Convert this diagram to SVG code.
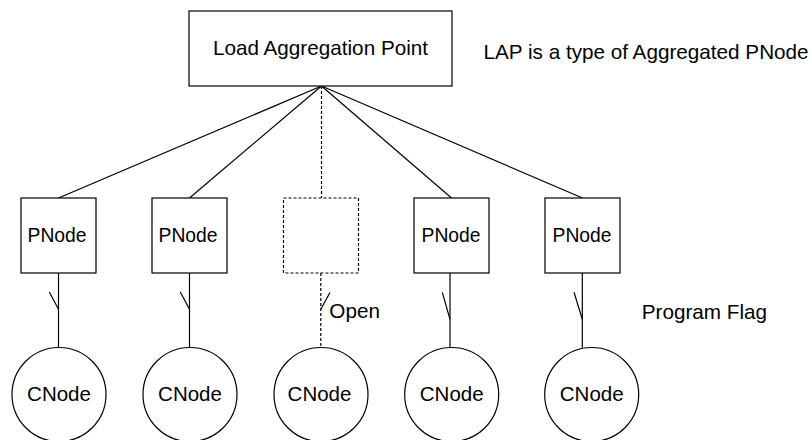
<svg xmlns="http://www.w3.org/2000/svg" width="812" height="440" viewBox="0 0 812 440">
<style>
  .box { fill: #ffffff; stroke: #000000; stroke-width: 1.2; }
  .dash { fill: none; stroke: #000000; stroke-width: 1.2; stroke-dasharray: 3 2; }
  .ln { fill: none; stroke: #000000; stroke-width: 1.2; }
  text { font-family: "Liberation Sans", Arial, sans-serif; font-size: 20.7px; fill: #000000; }
  .c { text-anchor: middle; }
  .p { font-size: 19.3px; }
  .cn { font-size: 20.5px; }
</style>
<rect width="812" height="440" fill="#ffffff"/>
<g id="connectors">
  <line class="ln" x1="321.5" y1="86" x2="58.5" y2="198"/>
  <line class="ln" x1="321.5" y1="86" x2="189.5" y2="198"/>
  <line class="dash" x1="321.5" y1="86" x2="321.5" y2="198"/>
  <line class="ln" x1="321.5" y1="86" x2="451.5" y2="198"/>
  <line class="ln" x1="321.5" y1="86" x2="582.5" y2="198"/>
  <!-- switches -->
  <line class="ln" x1="58.5" y1="273" x2="58.5" y2="347"/>
  <line class="ln" x1="49.3" y1="292" x2="58.5" y2="309.3"/>
  <line class="ln" x1="189.5" y1="273" x2="189.5" y2="347"/>
  <line class="ln" x1="180.3" y1="292" x2="189.5" y2="309.3"/>
  <line class="dash" x1="320.8" y1="273" x2="320.8" y2="347"/>
  <line class="ln" x1="320.8" y1="309.3" x2="330" y2="292.5"/>
  <line class="ln" x1="450" y1="273" x2="450" y2="347.7"/>
  <line class="ln" x1="442.3" y1="292.3" x2="450" y2="319.3"/>
  <line class="ln" x1="582.3" y1="273" x2="582.3" y2="347.5"/>
  <line class="ln" x1="574" y1="292.3" x2="582.3" y2="319.3"/>
</g>
<g id="lap">
  <rect class="box" x="189" y="11" width="263" height="75"/>
  <text class="c" x="320.5" y="55.3">Load Aggregation Point</text>
</g>
<g id="lap-note">
  <text x="483.5" y="59">LAP is a type of Aggregated PNode</text>
</g>
<g id="pnode1">
  <rect class="box" x="21" y="198" width="75" height="75"/>
  <text class="c p" x="57" y="242">PNode</text>
</g>
<g id="pnode2">
  <rect class="box" x="152" y="198" width="75" height="75"/>
  <text class="c p" x="188" y="242">PNode</text>
</g>
<g id="pnode-open">
  <rect class="dash" x="283.5" y="198" width="75" height="75"/>
</g>
<g id="pnode4">
  <rect class="box" x="414" y="198" width="75" height="75"/>
  <text class="c p" x="451" y="242">PNode</text>
</g>
<g id="pnode5">
  <rect class="box" x="545" y="198" width="75" height="75"/>
  <text class="c p" x="582" y="242">PNode</text>
</g>
<g id="open-label">
  <text x="329.3" y="317.7">Open</text>
</g>
<g id="program-flag">
  <text x="641.7" y="319.3">Program Flag</text>
</g>
<g id="cnode1">
  <circle class="box" cx="59" cy="394.5" r="47"/>
  <text class="c cn" x="59" y="401">CNode</text>
</g>
<g id="cnode2">
  <circle class="box" cx="190" cy="394.5" r="47"/>
  <text class="c cn" x="190" y="401">CNode</text>
</g>
<g id="cnode3">
  <circle class="box" cx="321" cy="394.5" r="47"/>
  <text class="c cn" x="319.5" y="401">CNode</text>
</g>
<g id="cnode4">
  <circle class="box" cx="451.7" cy="394.5" r="47"/>
  <text class="c cn" x="451.7" y="401">CNode</text>
</g>
<g id="cnode5">
  <circle class="box" cx="591.7" cy="394.5" r="47"/>
  <text class="c cn" x="591.7" y="401">CNode</text>
</g>
</svg>
